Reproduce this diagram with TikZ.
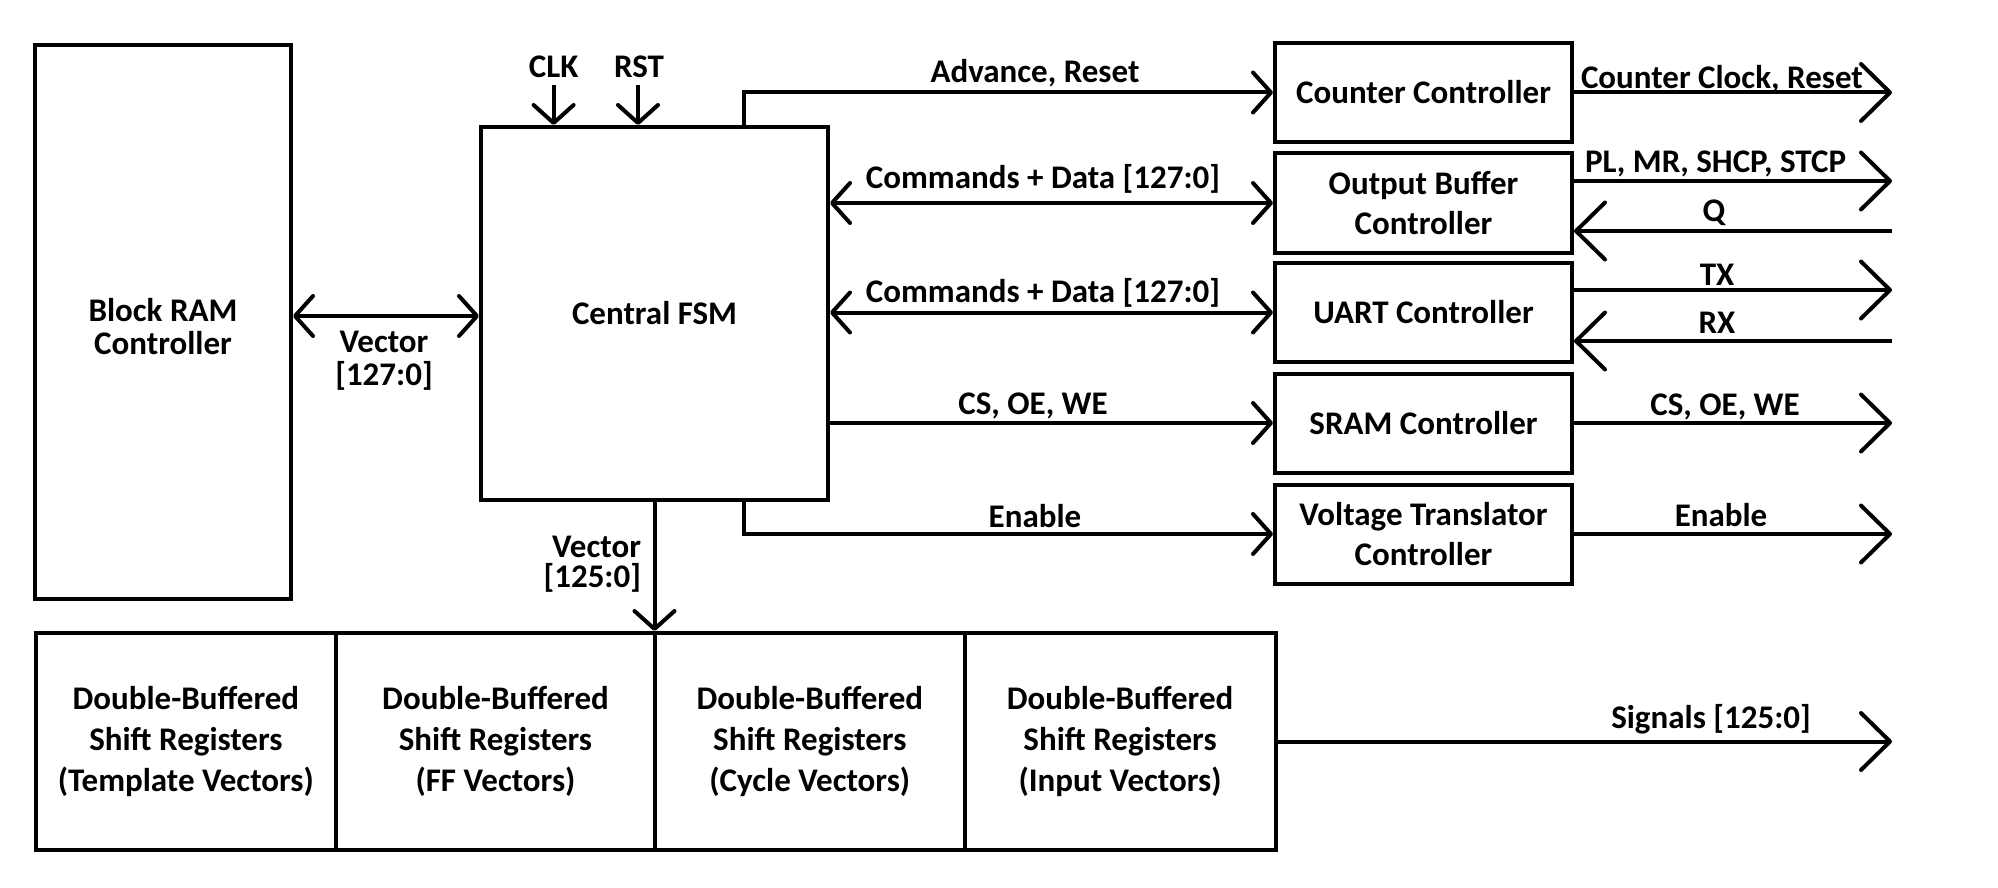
\documentclass[tikz,border=0pt]{standalone}
\usepackage{fontspec}
\setmainfont{Carlito}
\usetikzlibrary{arrows.meta,calc}
\begin{document}
\begin{tikzpicture}[x=1pt,y=-1pt,line width=4pt,
  txt/.style={font=\fontsize{33}{40}\selectfont\bfseries},
  box/.style={draw,rectangle,line width=4pt,inner sep=0pt,align=center,txt},
  srbox/.style={box,minimum height=217pt,font=\fontsize{33}{41}\selectfont\bfseries},
  rbox/.style={box,minimum width=297pt,minimum height=99pt,font=\fontsize{33}{39.5}\selectfont\bfseries},
  lbl/.style={inner sep=0pt,anchor=base,txt},
  sa/.style={-{Straight Barb[length=18pt,width=40pt,round]}},
  ba/.style={{Straight Barb[length=18pt,width=40pt,round]}-{Straight Barb[length=18pt,width=40pt,round]}},
  la/.style={-{Straight Barb[length=29pt,width=57pt,round]}}]
\useasboundingbox (0,0) rectangle (1998,888);

% boxes
\node[box,minimum width=256pt,minimum height=554pt,font=\fontsize{33}{33}\selectfont\bfseries] (bram) at (163,322) {\rule{0pt}{10pt}\\[-10pt]Block RAM\\Controller};
\node[box,minimum width=347pt,minimum height=373pt] (fsm) at (654.5,313.5) {Central FSM};
\node[rbox] (cnt)  at (1423.5,92.5) {Counter Controller};
\node[rbox] (obuf) at (1423.5,203) {Output Buffer\\Controller};
\node[rbox] (uart) at (1423.5,312.5) {UART Controller};
\node[rbox] (sram) at (1423.5,423) {SRAM Controller};
\node[rbox] (vt)   at (1423.5,534) {Voltage Translator\\Controller};

\node[srbox,minimum width=300.3pt] (sr1) at (185.9,741.5) {Double-Buffered\\Shift Registers\\(Template Vectors)};
\node[srbox,minimum width=319pt]   (sr2) at (495.5,741.5) {Double-Buffered\\Shift Registers\\(FF Vectors)};
\node[srbox,minimum width=309.6pt] (sr3) at (809.8,741.5) {Double-Buffered\\Shift Registers\\(Cycle Vectors)};
\node[srbox,minimum width=310.9pt] (sr4) at (1120.05,741.5) {Double-Buffered\\Shift Registers\\(Input Vectors)};

% labels
\node[lbl] (clk) at (553.6,78) {CLK};
\node[lbl] (rst) at (639,78) {RST};
\node[lbl,align=center,font=\fontsize{33}{33}\selectfont\bfseries] (v1) at (384,385) {Vector\\{}[127:0]};
\node[lbl,align=right,anchor=base east,font=\fontsize{33}{30}\selectfont\bfseries] (v2) at (643,587) {Vector\\{}[125:0]};
\node[lbl] (ladv) at (1035,83) {Advance, Reset};
\node[lbl] (lc1) at (1043,189) {Commands + Data [127:0]};
\node[lbl] (lc2) at (1043,302) {Commands + Data [127:0]};
\node[lbl] (lcs1) at (1033,414) {CS, OE, WE};
\node[lbl] (len1) at (1035,527) {Enable};
\node[lbl,anchor=base west] (lcc) at (1579,89) {Counter Clock, Reset};
\node[lbl,anchor=base west] (lpl) at (1583,173) {PL, MR, SHCP, STCP};
\node[lbl] (lq) at (1714,222) {Q};
\node[lbl] (ltx) at (1717,285) {TX};
\node[lbl] (lrx) at (1717,333) {RX};
\node[lbl] (lcs2) at (1725,415) {CS, OE, WE};
\node[lbl] (len2) at (1721,526) {Enable};
\node[lbl] (lsig) at (1711,728) {Signals [125:0]};

% free ends
\coordinate (clkin) at (553.6,85);
\coordinate (rstin) at (638,85);
\coordinate (tapN) at (744,127);
\coordinate (tapS) at (744,500);
\coordinate (xr) at (1892,0);
\coordinate (plo) at (1892,181);
\coordinate (qi) at (1892,231);
\coordinate (txo) at (1892,290);
\coordinate (rxi) at (1892,341);

% connectors
\draw[sa] (clkin) -- (clkin |- fsm.north);
\draw[sa] (rstin) -- (rstin |- fsm.north);
\draw[ba] (bram.east |- 0,316) -- (fsm.west |- 0,316);
\draw[sa] (tapN) |- (cnt.west);
\draw[ba] (fsm.east |- obuf.west) -- (obuf.west);
\draw[ba] (fsm.east |- uart.west) -- (uart.west);
\draw[sa] (fsm.east |- sram.west) -- (sram.west);
\draw[sa] (tapS) |- (vt.west);
\draw[sa] (fsm.south) -- (fsm.south |- sr3.north);

\draw[la] (cnt.east) -- (cnt.east -| xr);
\draw[la] (plo -| obuf.east) -- (plo);
\draw[la] (qi) -- (qi -| obuf.east);
\draw[la] (txo -| uart.east) -- (txo);
\draw[la] (rxi) -- (rxi -| uart.east);
\draw[la] (sram.east) -- (sram.east -| xr);
\draw[la] (vt.east) -- (vt.east -| xr);
\draw[la] (sr4.east) -- (sr4.east -| xr);
\end{tikzpicture}
\end{document}
